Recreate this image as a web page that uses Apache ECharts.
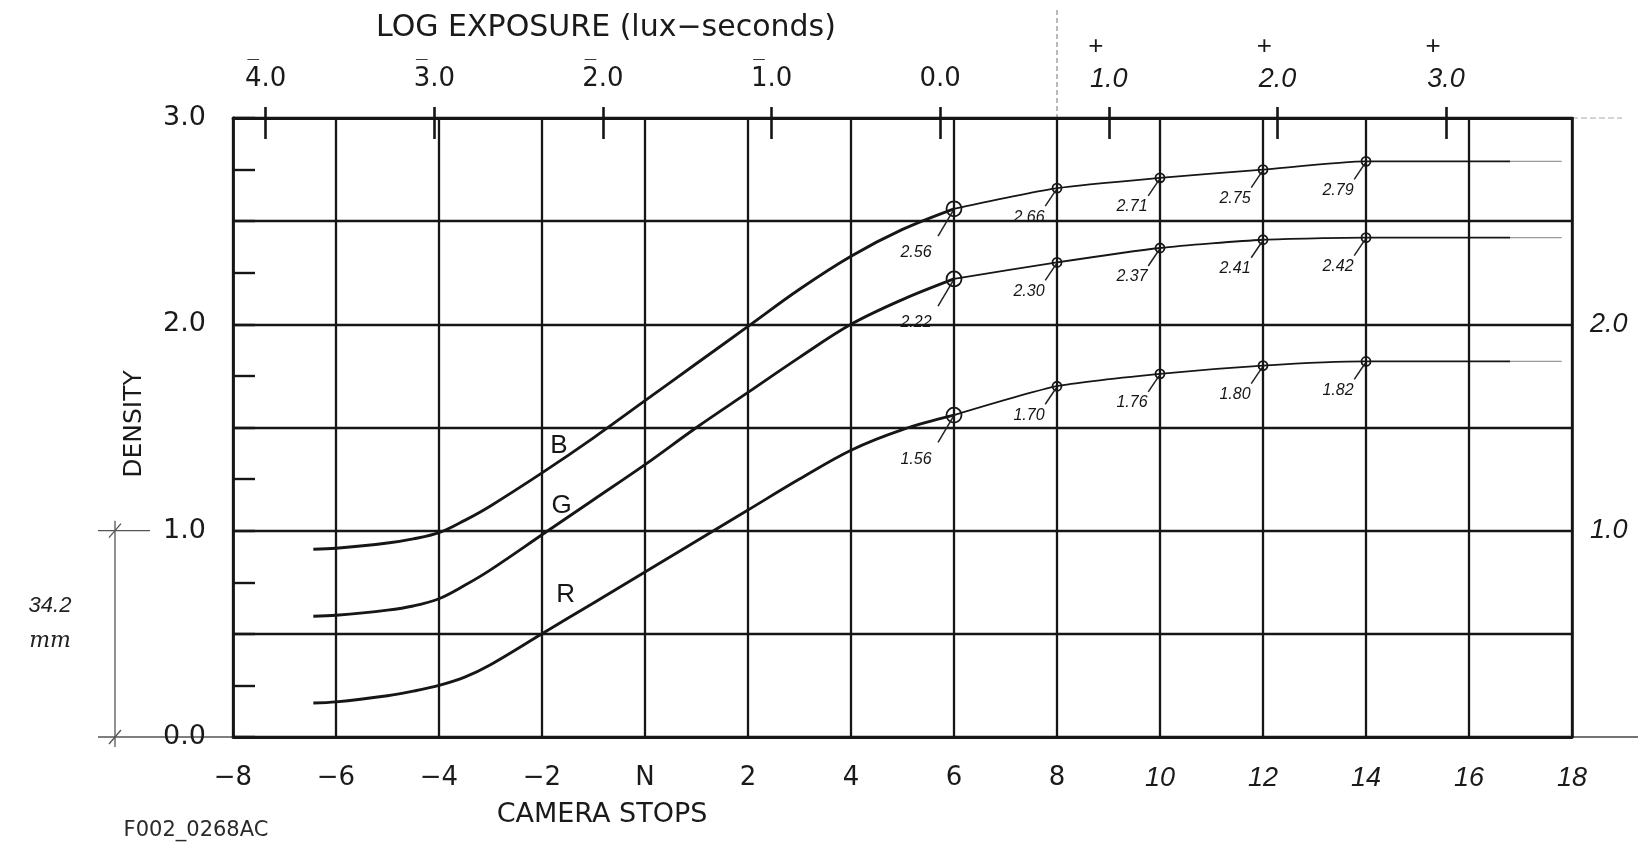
<!DOCTYPE html>
<html><head><meta charset="utf-8">
<script src="https://cdn.jsdelivr.net/npm/echarts@6/dist/echarts.min.js"></script>
<style>html,body{margin:0;padding:0;background:#fff}#c{width:1643px;height:847px}</style>
</head><body><div id="c"></div>
<script>
// ---- data ----
// camera stops sampled along the hand-drawn toe / straight-line section
const toeStops = [-6.44, -6, -5, -4.5, -4, -3.5, -3, -2, -1, 0, 1, 2, 3, 4, 5, 6];
const toeB = [0.91, 0.915, 0.94, 0.96, 0.99, 1.05, 1.12, 1.28, 1.45, 1.63, 1.81, 1.99, 2.17, 2.33, 2.46, 2.56];
const toeG = [0.585, 0.59, 0.615, 0.635, 0.67, 0.735, 0.81, 0.98, 1.15, 1.32, 1.50, 1.67, 1.84, 2.00, 2.12, 2.22];
const toeR = [0.165, 0.17, 0.20, 0.222, 0.25, 0.29, 0.35, 0.50, 0.65, 0.80, 0.95, 1.10, 1.25, 1.39, 1.49, 1.56];
// shoulder: measured (annotated) points then flat run
const shoulderStops = [6, 8, 10, 12, 14, 16.8];
const shoulderB = [2.56, 2.66, 2.71, 2.75, 2.79, 2.79];
const shoulderG = [2.22, 2.30, 2.37, 2.41, 2.42, 2.42];
const shoulderR = [1.56, 1.70, 1.76, 1.80, 1.82, 1.82];
const annotatedCount = 5;
// faint pencil extension
const extStops = [16.8, 17.8];
const extB = [2.79, 2.79];
const extG = [2.42, 2.42];
const extR = [1.82, 1.82];
// curve letters
const curveNames = ['B', 'G', 'R'];
const curveNameStops = [-1.67, -1.62, -1.54];
const curveNameDensity = [1.41, 1.12, 0.69];
// axes
const logTicks = [-4, -3, -2, -1, 0, 1, 2, 3];
const logMin = -4.194, logMax = 3.747;   // log exposure at stop -8 and stop 18
const rightLabels = [1, 2];

const INK = '#161616';
const CAD = 'DejaVu Sans';
const HAND = 'Liberation Sans';

function pairs(xs, ys) { return xs.map((x, i) => [x, ys[i]]); }

function curve(xs, ys, width, smooth, color) {
  return { type: 'line', data: pairs(xs, ys), showSymbol: false, smooth: smooth,
    lineStyle: { color: color || INK, width: width }, silent: true, z: 4, animation: false };
}

function annot(values) {
  return {
    type: 'custom', xAxisIndex: 0, yAxisIndex: 0, z: 6, animation: false, silent: true,
    encode: { x: 0, y: 1 },
    data: shoulderStops.slice(0, annotatedCount).map((s, i) => [s, values[i], i]),
    renderItem: function (params, api) {
      const p = api.coord([api.value(0), api.value(1)]);
      const first = api.value(2) === 0;
      const r = first ? 7.5 : 4.5;
      const lx = first ? -38 : -28, ly = first ? 44 : 29;
      return { type: 'group', children: [
        { type: 'circle', shape: { cx: p[0], cy: p[1], r: r }, style: { fill: 'none', stroke: INK, lineWidth: 1.8 } },
        { type: 'line', shape: { x1: p[0] - 1, y1: p[1] + 2, x2: p[0] + lx * 0.42, y2: p[1] + ly * 0.62 }, style: { stroke: '#222', lineWidth: 1.5 } },
        { type: 'text', x: p[0] + lx, y: p[1] + ly, style: { text: api.value(1).toFixed(2), fontSize: 16, fontStyle: 'italic', fontFamily: HAND, fill: INK, align: 'center', verticalAlign: 'middle' } }
      ] };
    }
  };
}

const letters = {
  type: 'custom', xAxisIndex: 0, yAxisIndex: 0, z: 6, animation: false, silent: true,
  encode: { x: 0, y: 1 },
  data: curveNames.map((n, i) => [curveNameStops[i], curveNameDensity[i], i]),
  renderItem: function (params, api) {
    const p = api.coord([api.value(0), api.value(1)]);
    return { type: 'text', x: p[0], y: p[1], style: { text: curveNames[api.value(2)], fontSize: 26, fontFamily: HAND, fill: INK, align: 'center', verticalAlign: 'middle' } };
  }
};

function stopLabel(v) {
  if (v === 0) return 'N';
  if (v >= 10) return '{h|' + v + '}';
  return (v < 0 ? '\u2212' : '') + Math.abs(v);
}
function logLabel(v) {
  if (v < 0) return '{b|\u2014}\n{n|' + Math.abs(v) + '.0}';
  if (v === 0) return '{n|0.0}';
  return '{p|+}\n{h|' + v + '.0}';
}

const GRID = { left: 233, right: 71, top: 118, bottom: 110 };
const chart = echarts.init(document.getElementById('c'), null, { renderer: 'canvas' });
const option = {
  backgroundColor: '#fff',
  animation: false,
  grid: [Object.assign({}, GRID), Object.assign({}, GRID)],
  xAxis: [
    { type: 'value', gridIndex: 0, min: -8, max: 18, interval: 2, position: 'bottom',
      axisLine: { show: true, onZero: false, lineStyle: { color: INK, width: 2.8 } },
      axisTick: { show: false },
      splitLine: { show: true, lineStyle: { color: INK, width: 2.3 } },
      axisLabel: { margin: 28, fontSize: 26, fontFamily: CAD, color: '#1a1a1a', formatter: stopLabel,
        rich: { h: { fontSize: 27, fontStyle: 'italic', fontFamily: HAND, color: '#1a1a1a' } } } },
    { type: 'value', gridIndex: 0, min: logMin, max: logMax, position: 'top',
      axisLine: { show: true, onZero: false, lineStyle: { color: INK, width: 2.8 } },
      axisTick: { show: true, customValues: logTicks, length: 11, lineStyle: { color: INK, width: 2.6 } },
      splitLine: { show: false },
      axisLabel: { customValues: logTicks, margin: 24, formatter: logLabel,
        rich: {
          n: { fontSize: 26, fontFamily: CAD, color: '#1a1a1a', lineHeight: 30 },
          h: { fontSize: 27, fontStyle: 'italic', fontFamily: HAND, color: '#1a1a1a', lineHeight: 30 },
          b: { fontSize: 13, fontFamily: CAD, color: '#1a1a1a', lineHeight: 8, padding: [0, 25, 0, 0] },
          p: { fontSize: 26, fontFamily: HAND, color: '#1a1a1a', lineHeight: 34, padding: [0, 26, 0, 0] }
        } } },
    { type: 'value', gridIndex: 1, min: logMin, max: logMax, position: 'top',
      axisLine: { show: false, onZero: false },
      axisTick: { show: true, inside: true, customValues: logTicks, length: 21, lineStyle: { color: INK, width: 2.6 } },
      axisLabel: { show: false }, splitLine: { show: false } }
  ],
  yAxis: [
    { type: 'value', gridIndex: 0, min: 0, max: 3, interval: 0.5, position: 'left',
      axisLine: { show: true, onZero: false, lineStyle: { color: INK, width: 2.8 } },
      axisTick: { show: true, inside: true, length: 22, lineStyle: { color: INK, width: 2.4 } },
      minorTick: { show: true, splitNumber: 2, length: 22, lineStyle: { color: INK, width: 2.4 } },
      splitLine: { show: true, lineStyle: { color: INK, width: 2.3 } },
      axisLabel: { margin: 27, fontSize: 27, fontFamily: CAD, color: '#1a1a1a',
        formatter: v => Number.isInteger(v) ? v.toFixed(1) : '' } },
    { type: 'value', gridIndex: 0, min: 0, max: 3, interval: 1, position: 'right',
      axisLine: { show: true, onZero: false, lineStyle: { color: INK, width: 2.6 } },
      axisTick: { show: false }, splitLine: { show: false },
      axisLabel: { margin: 18, fontSize: 27, fontStyle: 'italic', fontFamily: HAND, color: '#1a1a1a',
        formatter: v => rightLabels.indexOf(v) >= 0 ? v.toFixed(1) : '' } },
    { type: 'value', gridIndex: 1, min: 0, max: 3, show: false }
  ],
  series: [
    curve(toeStops, toeB, 2.9, 0.35),
    curve(toeStops, toeG, 2.9, 0.35),
    curve(toeStops, toeR, 2.9, 0.35),
    curve(shoulderStops, shoulderB, 1.8, 0.2),
    curve(shoulderStops, shoulderG, 1.8, 0.2),
    curve(shoulderStops, shoulderR, 1.8, 0.2),
    curve(extStops, extB, 1.2, false, '#999'),
    curve(extStops, extG, 1.2, false, '#999'),
    curve(extStops, extR, 1.2, false, '#999'),
    annot(shoulderB), annot(shoulderG), annot(shoulderR),
    letters
  ],
  graphic: [
    { type: 'text', x: 606, y: 28, style: { text: 'LOG EXPOSURE (lux\u2212seconds)', fontSize: 30, fontFamily: CAD, fill: '#1a1a1a', align: 'center', verticalAlign: 'middle' } },
    { type: 'text', x: 602, y: 815, style: { text: 'CAMERA STOPS', fontSize: 27, fontFamily: CAD, fill: '#1a1a1a', align: 'center', verticalAlign: 'middle' } },
    { type: 'text', x: 134, y: 424, rotation: Math.PI / 2, style: { text: 'DENSITY', fontSize: 25, fontFamily: CAD, fill: '#1a1a1a', align: 'center', verticalAlign: 'middle' } },
    { type: 'text', x: 196, y: 831, style: { text: 'F002_0268AC', fontSize: 21, fontFamily: CAD, fill: '#2a2a2a', align: 'center', verticalAlign: 'middle' } }
  ]
};
chart.setOption(option);

// dimension marks & decorations placed through the chart's own scales
const y0 = chart.convertToPixel({ yAxisIndex: 0 }, 0);
const y1 = chart.convertToPixel({ yAxisIndex: 0 }, 1);
const yTop = chart.convertToPixel({ yAxisIndex: 0 }, 3);
const xL = chart.convertToPixel({ xAxisIndex: 0 }, -8);
const xR = chart.convertToPixel({ xAxisIndex: 0 }, 18);
const x8 = chart.convertToPixel({ xAxisIndex: 0 }, 8);
const dimX = 115;
const thin = { stroke: '#555', lineWidth: 1.3 };
const extra = [
  { type: 'line', shape: { x1: dimX, y1: y1, x2: dimX, y2: y0 }, style: thin },
  { type: 'line', shape: { x1: 98, y1: y1, x2: 150, y2: y1 }, style: thin },
  { type: 'line', shape: { x1: 98, y1: y0, x2: xL, y2: y0 }, style: thin },
  { type: 'line', shape: { x1: dimX - 6, y1: y1 + 7, x2: dimX + 6, y2: y1 - 7 }, style: thin },
  { type: 'line', shape: { x1: dimX - 6, y1: y0 + 7, x2: dimX + 6, y2: y0 - 7 }, style: thin },
  { type: 'line', shape: { x1: dimX, y1: y1 - 10, x2: dimX, y2: y1 }, style: thin },
  { type: 'line', shape: { x1: dimX, y1: y0, x2: dimX, y2: y0 + 10 }, style: thin },
  { type: 'text', x: 50, y: (y0 + y1) / 2 - 28, style: { text: '34.2', fontSize: 22, fontStyle: 'italic', fontFamily: HAND, fill: '#222', align: 'center', verticalAlign: 'middle' } },
  { type: 'text', x: 50, y: (y0 + y1) / 2 + 7, style: { text: 'mm', fontSize: 22, fontStyle: 'italic', fontFamily: 'DejaVu Serif', fill: '#222', align: 'center', verticalAlign: 'middle' } },
  { type: 'line', shape: { x1: x8, y1: 10, x2: x8, y2: yTop }, style: { stroke: '#777', lineWidth: 1, lineDash: [5, 3] } },
  { type: 'line', shape: { x1: xR, y1: yTop, x2: xR + 50, y2: yTop }, style: { stroke: '#aaa', lineWidth: 1, lineDash: [6, 3] } },
  { type: 'line', shape: { x1: xR, y1: y0, x2: xR + 66, y2: y0 }, style: { stroke: '#444', lineWidth: 1.6 } }
];
chart.setOption({ graphic: option.graphic.concat(extra) });
</script>
</body></html>
